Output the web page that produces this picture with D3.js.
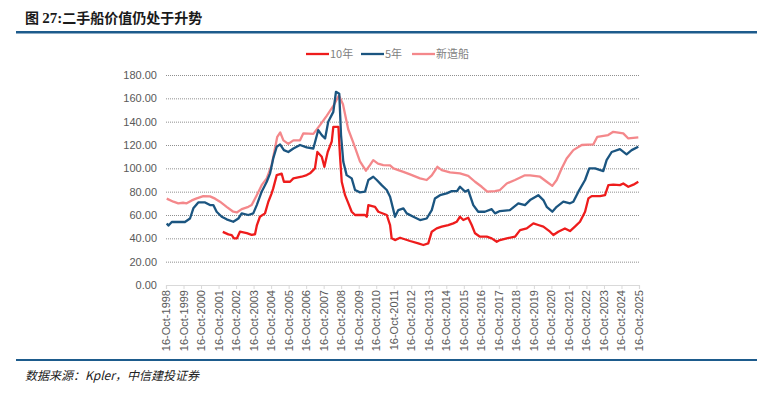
<!DOCTYPE html>
<html><head><meta charset="utf-8">
<script src="https://cdn.jsdelivr.net/npm/d3@7"></script>
<style>
html,body{margin:0;padding:0;background:#fff;}
svg{display:block;}
</style></head>
<body>
<svg id="chart" width="773" height="394"></svg>
<script>
// ---- data (decimal years, values) ----
const yTicks = [0,20,40,60,80,100,120,140,160,180];
const tickYears = d3.range(1998, 2026);
const seriesNames = ["10年","5年","新造船"];

const newT = [1998.83,1999.21,1999.49,1999.76,1999.97,2000.26,2000.54,2000.92,2001.30,2001.59,2001.87,2002.25,2002.63,2002.83,2003.11,2003.49,2003.68,2003.97,2004.25,2004.54,2004.82,2005.01,2005.14,2005.31,2005.49,2005.77,2006.06,2006.44,2006.63,2007.20,2007.58,2007.96,2008.34,2008.66,2008.89,2009.19,2009.48,2009.86,2010.20,2010.43,2010.62,2010.89,2011.19,2011.58,2011.77,2012.05,2012.34,2012.72,2013.29,2013.67,2013.96,2014.28,2014.53,2015.00,2015.57,2016.04,2016.43,2016.81,2017.13,2017.57,2017.85,2018.24,2018.71,2019.28,2019.57,2020.14,2020.52,2020.84,2021.09,2021.38,2021.66,2022.04,2022.52,2023.18,2023.41,2024.03,2024.32,2024.89,2025.18,2025.75];
const newV = [74,71.4,70,70.5,70,72.5,74.2,76.2,76,74,71.4,67,62.8,62.2,65,67,68.5,77,85.6,91.4,102.8,117,127,130.7,124,121,124,124,130,129.5,137,145,153.5,162.5,155,133.5,122,106,98,102.8,107,104,102.8,102.5,100,98.5,97,94.8,91.4,90,94,101.3,98.5,96.5,95.7,93.6,88.5,84.2,80,80.5,81.4,87,90,94,94,92.8,88.5,85,90,100,108.5,115.6,120,120.5,127,128.5,131.3,130,125.6,126.5];

const y5T = [1998.83,1998.93,1999.12,1999.87,2000.16,2000.35,2000.63,2001.02,2001.30,2001.49,2001.68,2001.97,2002.25,2002.63,2002.92,2003.11,2003.49,2003.77,2003.97,2004.25,2004.54,2004.73,2004.91,2005.11,2005.30,2005.52,2005.77,2006.06,2006.44,2006.82,2007.20,2007.48,2007.68,2007.87,2008.05,2008.34,2008.49,2008.68,2008.78,2008.91,2009.10,2009.39,2009.58,2009.86,2010.15,2010.34,2010.62,2010.82,2011.10,2011.39,2011.58,2011.77,2011.86,2012.05,2012.34,2012.53,2012.91,2013.29,2013.67,2013.96,2014.14,2014.43,2014.81,2015.10,2015.40,2015.57,2015.86,2016.04,2016.33,2016.61,2016.99,2017.38,2017.57,2017.85,2018.42,2018.90,2019.28,2019.57,2020.04,2020.33,2020.52,2020.84,2021.09,2021.47,2021.85,2022.04,2022.33,2022.71,2022.95,2023.28,2023.75,2023.94,2024.23,2024.70,2025.08,2025.37,2025.75];
const y5V = [52.8,51,54,54,57,65.7,70.8,70.8,68.5,68.5,62.8,58.5,56.3,54.2,57,61.4,60,61.4,68.5,80,88.5,95.7,108.5,118.5,120.5,115.6,114,117,120,118,117,132.8,128.5,125.6,140,148.4,165.6,164,128.5,105.6,94.2,91.4,81.4,79.4,80,90,92.8,90,85.6,81.4,75.6,64.2,58.5,64.2,65.7,61.4,58.5,55.7,57,64.2,74.2,77,78.5,80.5,80.5,84.2,80,81.4,68.5,62.8,62.8,65,61.4,63.4,64.2,70,68.5,72.8,77,72.8,67,62.8,67,71.4,70,71.4,80,90,100,100,97.6,107,114,116.5,112,115.6,118.5];

const y10T = [2002.03,2002.35,2002.54,2002.67,2002.84,2003.01,2003.40,2003.68,2003.87,2003.98,2004.15,2004.44,2004.63,2004.82,2004.91,2005.11,2005.39,2005.52,2005.87,2006.06,2006.53,2006.82,2007.01,2007.29,2007.43,2007.68,2007.83,2008.02,2008.25,2008.34,2008.63,2008.72,2008.82,2009.01,2009.20,2009.39,2009.58,2010.15,2010.25,2010.34,2010.72,2010.91,2011.39,2011.58,2011.67,2011.86,2012.15,2012.72,2013.19,2013.48,2013.76,2013.96,2014.24,2014.53,2014.90,2015.19,2015.38,2015.57,2015.76,2016.04,2016.24,2016.43,2016.71,2017.10,2017.38,2017.67,2017.85,2018.24,2018.71,2019.00,2019.38,2019.76,2020.04,2020.33,2020.71,2020.90,2021.18,2021.56,2021.85,2022.13,2022.42,2022.71,2022.90,2023.09,2023.57,2023.85,2024.04,2024.32,2024.70,2024.89,2025.18,2025.47,2025.75];
const y10V = [45.5,43.4,42.8,40,40,45.7,44.5,43,43.5,51.4,58.5,61.4,71.4,78.5,82.8,94.2,95.5,88.5,88.5,91.4,92.8,94.2,95.7,100,114,110,101.3,114,123,135.6,135.6,111,88.5,77,70,62.8,60,60,58.5,68.5,67,62.8,60,51.4,40,38.5,40.5,37.7,35.7,34.3,35.7,45.7,48.5,50,51.4,52.8,54.2,58.5,55.7,57.7,51.4,44.3,41.4,41.4,40,37.1,38.5,40,41.4,47,48.5,52.8,51.4,50,45.7,42.8,45.7,48.5,46.2,50,54.2,62.8,74.2,76.2,76.2,77,85.6,86,85.6,87,84.2,86,88.5];

const colors = ["#ee1c1c","#1b5580","#f4888b"];

// ---- layout ----
const svg = d3.select("#chart");
const margin = {left:166, right:134, top:75, bottom:109};
const W = 773, H = 394;
const x0 = 1998 + 288/365, x1 = 2025 + 288/365;
const x = d3.scaleLinear().domain([x0, x1]).range([166, 639]);
const y = d3.scaleLinear().domain([0,180]).range([285, 75]);

// title
const title = svg.append("text").attr("x",25).attr("y",23)
  .attr("font-size",14).attr("font-weight","bold").attr("fill","#1a1a1a")
  .attr("font-family","'Noto Sans CJK SC', sans-serif");
title.append("tspan").text("图 ");
title.append("tspan").attr("font-family","'Liberation Serif', serif").attr("font-size",15).text("27:");
title.append("tspan").text("二手船价值仍处于升势");

svg.append("rect").attr("x",16).attr("y",31).attr("width",741).attr("height",2.5).attr("fill","#1d5b8c");
svg.append("rect").attr("x",16).attr("y",359).attr("width",741).attr("height",2).attr("fill","#1d5b8c");

svg.append("text").attr("x",25).attr("y",380).attr("font-size",12).attr("font-style","italic")
  .attr("fill","#222").attr("font-family","'Noto Sans CJK SC', sans-serif")
  .text("数据来源：Kpler，中信建投证券");

// grid
const g = svg.append("g");
g.selectAll("line.grid").data(yTicks.filter(d=>d>0)).join("line")
  .attr("x1",166).attr("x2",639).attr("y1",d=>y(d)+0.5).attr("y2",d=>y(d)+0.5)
  .attr("stroke","#8f8f8f").attr("stroke-width",1).attr("stroke-dasharray","1,1");

// y axis labels
g.selectAll("text.yl").data(yTicks).join("text")
  .attr("x",157).attr("y",d=>y(d)+4).attr("text-anchor","end")
  .attr("font-size",11).attr("fill","#595959").attr("font-family","'Liberation Sans', Arial, sans-serif")
  .text(d=>d3.format(".2f")(d));

// x axis
const xa = svg.append("g").attr("transform","translate(0,285)")
  .call(d3.axisBottom(x).tickValues(tickYears.map(t=>t+288/365)).tickSize(4).tickFormat(""));
xa.select(".domain").attr("stroke","#d9d9d9").attr("stroke-width",1.2);
xa.selectAll(".tick line").attr("stroke","#d9d9d9");
svg.append("g").selectAll("text").data(tickYears).join("text")
  .attr("transform",d=>`translate(${x(d+288/365)+4},290) rotate(-90)`)
  .attr("text-anchor","end").attr("font-size",11).attr("fill","#595959")
  .attr("font-family","'Liberation Sans', Arial, sans-serif")
  .text(d=>"16-Oct-"+d);

// lines
const line = d3.line().x(d=>x(d[0])).y(d=>y(d[1]));
const series = [d3.zip(y10T,y10V), d3.zip(y5T,y5V), d3.zip(newT,newV)];
[2,1,0].forEach(i=>{
  svg.append("path").datum(series[i]).attr("d",line).attr("fill","none")
    .attr("stroke",colors[i]).attr("stroke-width",2.3).attr("stroke-linejoin","round");
});

// legend
const legX = [306,361,412];
const leg = svg.append("g");
seriesNames.forEach((n,i)=>{
  leg.append("line").attr("x1",legX[i]).attr("x2",legX[i]+23).attr("y1",54).attr("y2",54)
    .attr("stroke",colors[i]).attr("stroke-width",2.3);
  leg.append("text").attr("x",legX[i]+24).attr("y",58).attr("font-size",11).attr("fill","#7f7f7f")
    .attr("font-family","'Noto Sans CJK SC', sans-serif").text(n);
});
</script>
</body></html>
